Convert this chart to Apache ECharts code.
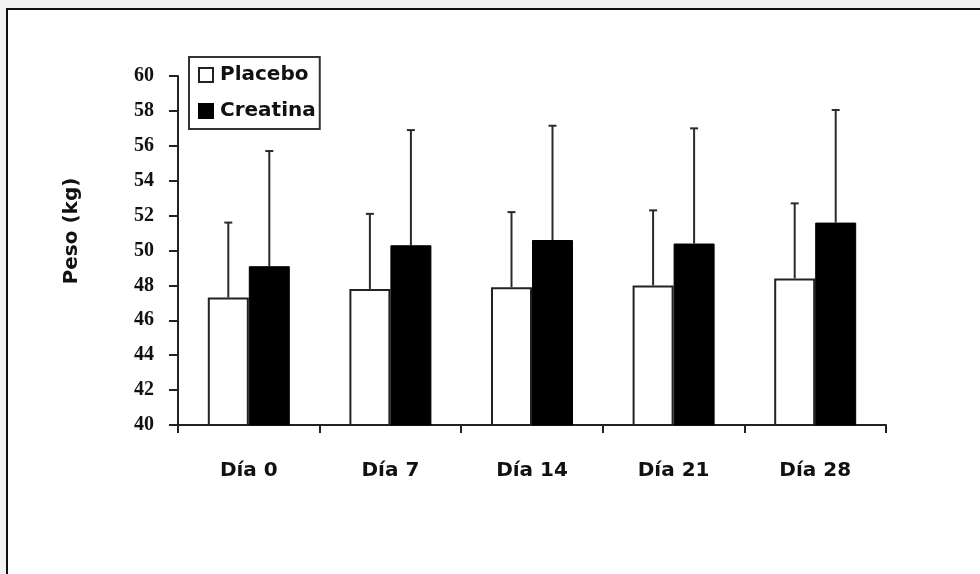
<!DOCTYPE html>
<html>
<head>
<meta charset="utf-8">
<style>
  html, body { margin: 0; padding: 0; background: #f4f4f4; }
  #chart { width: 980px; height: 574px; }
</style>
<script src="https://cdn.jsdelivr.net/npm/echarts@6/dist/echarts.min.js"></script>
</head>
<body>
<div id="chart"></div>
<script>
// ---- data ----
const categories = ['Día 0', 'Día 7', 'Día 14', 'Día 21', 'Día 28'];
const placeboMean = [47.3, 47.8, 47.9, 48.0, 48.4];
const placeboSD   = [4.3, 4.3, 4.3, 4.3, 4.3];
const creatinaMean = [49.1, 50.3, 50.6, 50.4, 51.6];
const creatinaSD   = [6.6, 6.6, 6.55, 6.6, 6.45];
const yTicks = { min: 40, max: 60, interval: 2 };

const BAR_W = 41;
const chart = echarts.init(document.getElementById('chart'), null, { renderer: 'canvas' });

function errorSeries(name, means, sds, offset) {
  return {
    type: 'custom',
    name: name + ' SD',
    silent: true,
    z: 5,
    data: means.map((m, i) => [i, m, sds[i]]),
    encode: { x: 0, y: 1 },
    renderItem: function (params, api) {
      const i = api.value(0), m = api.value(1), sd = api.value(2);
      const base = api.coord([i, m]);
      const top = api.coord([i, m + sd]);
      const x = base[0] + offset;
      const st = { stroke: '#2a2a2a', lineWidth: 2 };
      return {
        type: 'group',
        children: [
          { type: 'line', shape: { x1: x, y1: base[1], x2: x, y2: top[1] }, style: st },
          { type: 'line', shape: { x1: x - 4, y1: top[1], x2: x + 4, y2: top[1] }, style: st }
        ]
      };
    }
  };
}

const option = {
  animation: false,
  backgroundColor: '#f4f4f4',
  graphic: [
    { type: 'rect', z: -10, shape: { x: 7, y: 9, width: 1000, height: 600 },
      style: { fill: '#ffffff', stroke: '#111', lineWidth: 2 } },
    { type: 'text', x: 72, y: 231, rotation: Math.PI / 2,
      style: { text: 'Peso (kg)', textAlign: 'center', textVerticalAlign: 'middle',
               font: 'bold 20px "DejaVu Sans"', fill: '#111' } }
  ],
  grid: { left: 178, right: 94, top: 76, bottom: 149 },
  legend: {
    left: 189, top: 57, orient: 'vertical',
    data: [{ name: 'Placebo', icon: 'rect' }, { name: 'Creatina', icon: 'rect' }],
    itemWidth: 14, itemHeight: 14, itemGap: 14,
    padding: [7, 4, 7, 9],
    borderColor: '#333', borderWidth: 2,
    backgroundColor: '#fff',
    selectedMode: false,
    textStyle: { fontFamily: 'DejaVu Sans', fontWeight: 'bold', fontSize: 20, color: '#111', lineHeight: 22, padding: [0, 0, 0, 2] }
  },
  xAxis: {
    type: 'category',
    data: categories,
    axisLine: { lineStyle: { color: '#222', width: 2 } },
    axisTick: { show: true, alignWithLabel: false, length: 8, lineStyle: { color: '#222', width: 2 } },
    axisLabel: { margin: 36, fontFamily: 'DejaVu Sans', fontWeight: 'bold', fontSize: 20, color: '#111' }
  },
  yAxis: {
    type: 'value',
    min: yTicks.min, max: yTicks.max, interval: yTicks.interval,
    splitLine: { show: false },
    axisLine: { show: true, lineStyle: { color: '#222', width: 2 } },
    axisTick: { show: true, length: 9, lineStyle: { color: '#222', width: 2 } },
    axisLabel: { margin: 24, fontFamily: 'Liberation Serif', fontWeight: 'bold', fontSize: 20, color: '#111' }
  },
  series: [
    { name: 'Placebo', type: 'bar', data: placeboMean, barWidth: BAR_W, barGap: '0%',
      itemStyle: { color: '#ffffff', borderColor: '#222', borderWidth: 2 } },
    { name: 'Creatina', type: 'bar', data: creatinaMean, barWidth: BAR_W, barGap: '0%',
      itemStyle: { color: '#000000', borderColor: '#000', borderWidth: 1 } },
    errorSeries('Placebo', placeboMean, placeboSD, -BAR_W / 2),
    errorSeries('Creatina', creatinaMean, creatinaSD, BAR_W / 2)
  ]
};
chart.setOption(option);
</script>
</body>
</html>
